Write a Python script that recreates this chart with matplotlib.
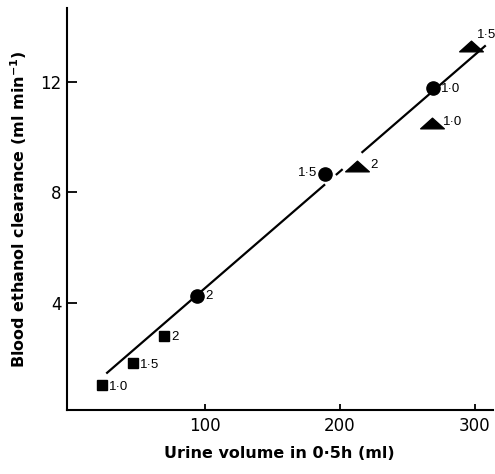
import matplotlib
matplotlib.use('Agg')
import matplotlib.pyplot as plt
import numpy as np
from matplotlib.path import Path

plt.rcParams['font.family'] = ['DejaVu Sans']

# data
sq_x = [24, 47, 70]
sq_y = [1.0, 1.8, 2.8]
sq_lab = ['1·0', '1·5', '2']

ci_x = [94, 189, 269]
ci_y = [4.25, 8.66, 11.78]
ci_lab = ['2', '1·5', '1·0']

tr_x = [213, 268, 297]
tr_y = [8.95, 10.5, 13.3]
tr_lab = ['2', '1·0', '1·5']

# regression line (slope, intercept) and the drawn pieces of it
fit_slope = 0.0423
fit_icpt = 0.29
fit_pieces = [(27, 189), (197, 202), (216, 308)]

fig = plt.figure(figsize=(4.95, 4.74), dpi=100)
ax = fig.add_axes([0.135, 0.135, 0.86, 0.848])
ax.set_xlim(-2.2, 313)
ax.set_ylim(0.11, 14.67)

for a, b in fit_pieces:
    xs = np.array([a, b])
    ax.plot(xs, fit_slope * xs + fit_icpt, color='black', lw=1.6,
            solid_capstyle='butt', zorder=2)

tri = Path([(-1, -0.45), (1, -0.45), (0, 0.45), (-1, -0.45)],
           [Path.MOVETO, Path.LINETO, Path.LINETO, Path.CLOSEPOLY])

ax.plot(sq_x, sq_y, ls='none', marker='s', ms=7.5, color='black', zorder=3)
ax.plot(ci_x, ci_y, ls='none', marker='o', ms=9.5, color='black', zorder=3)
ax.plot(tr_x, tr_y, ls='none', marker=tri, ms=17, color='black', zorder=3)

def lab(x, y, t, dx, dy, ha='left'):
    ax.annotate(t, (x, y), xytext=(dx, dy), textcoords='offset points',
                ha=ha, va='center', fontsize=9.5,
                family=['Liberation Sans', 'DejaVu Sans'])

for x, y, t in zip(sq_x, sq_y, sq_lab):
    lab(x, y, t, 5, -1)
lab(ci_x[0], ci_y[0], ci_lab[0], 6, 0)
lab(ci_x[1], ci_y[1], ci_lab[1], -6, 1, ha='right')
lab(ci_x[2], ci_y[2], ci_lab[2], 6, -1)
lab(tr_x[0], tr_y[0], tr_lab[0], 9, 1)
lab(tr_x[1], tr_y[1], tr_lab[1], 8, 1)
lab(tr_x[2], tr_y[2], tr_lab[2], 4, 8)

for s in ['top', 'right']:
    ax.spines[s].set_visible(False)
for s in ['left', 'bottom']:
    ax.spines[s].set_linewidth(1.5)

ax.set_xticks([100, 200, 300])
ax.set_yticks([4, 8, 12])
ax.tick_params(axis='y', direction='in', length=7, width=1.3, labelsize=12, pad=4)
ax.tick_params(axis='x', direction='in', length=4, width=1.3, labelsize=12, pad=5)

ax.set_xlabel('Urine volume in 0·5h (ml)', fontsize=11.5, fontweight='bold',
              labelpad=8)
ax.set_ylabel('Blood ethanol clearance (ml min$^{\\mathbf{-1}}$)', fontsize=11.5,
              fontweight='bold', labelpad=8)

fig.savefig('out.png', dpi=100, facecolor='white')
